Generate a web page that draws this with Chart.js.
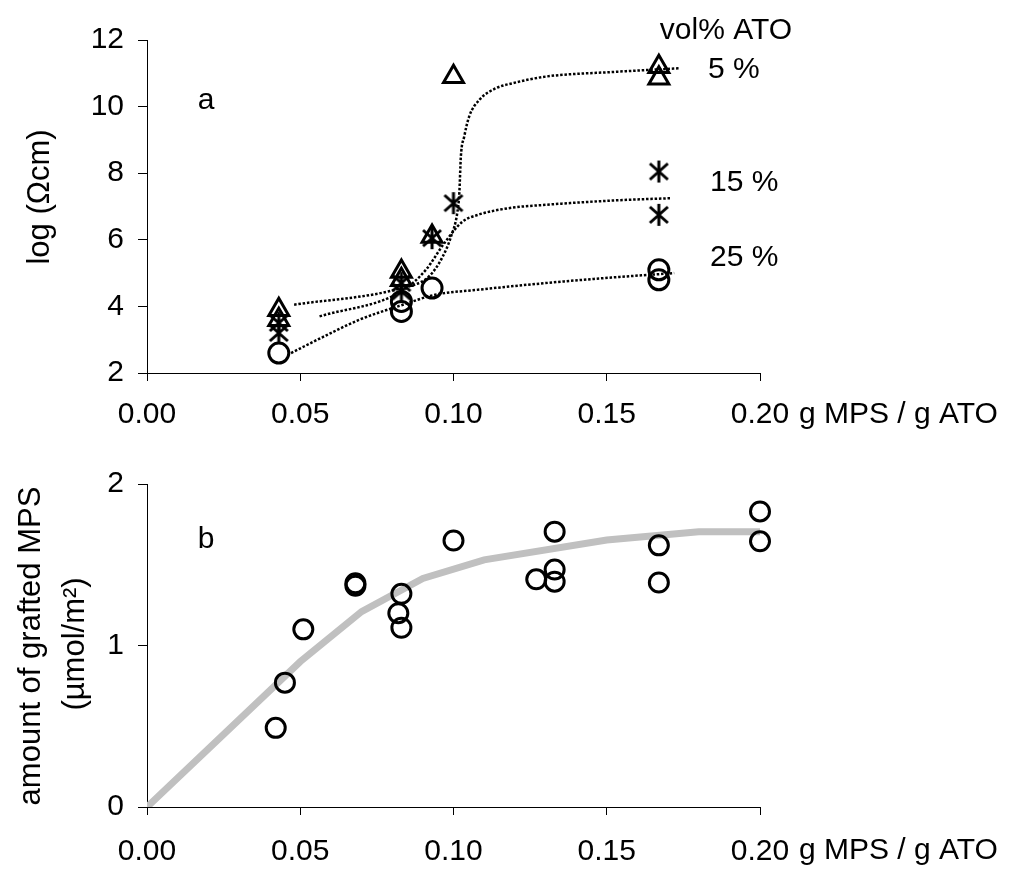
<!DOCTYPE html>
<html>
<head>
<meta charset="utf-8">
<script src="https://cdn.jsdelivr.net/npm/chart.js@4.4.1/dist/chart.umd.min.js"></script>
<style>
  body { margin: 0; background: #fff; }
  #wrap { position: relative; width: 1026px; height: 873px; }
  #chartA { position: absolute; left: 0; top: 0; }
  #chartB { position: absolute; left: 0; top: 440px; }
</style>
</head>
<body>
<div id="wrap">
  <canvas id="chartA" width="1026" height="440"></canvas>
  <canvas id="chartB" width="1026" height="433"></canvas>
</div>
<script>
// axis ticks
const xTicks = [0, 0.05, 0.10, 0.15, 0.20];
const yTicksA = [2, 4, 6, 8, 10, 12];
const yTicksB = [0, 1, 2];
const atoLevels = ['5 %', '15 %', '25 %'];

// panel a: log resistivity, one series per vol% ATO
const tri5X = [0.043, 0.043, 0.083, 0.083, 0.093, 0.100, 0.167, 0.167];
const tri5Y = [3.90, 3.60, 5.05, 4.80, 6.10, 10.90, 11.20, 10.85];
const star15X = [0.043, 0.043, 0.083, 0.083, 0.093, 0.100, 0.167, 0.167];
const star15Y = [3.50, 3.20, 4.70, 4.45, 6.05, 7.10, 8.05, 6.75];
const circ25X = [0.043, 0.083, 0.083, 0.093, 0.167, 0.167];
const circ25Y = [2.60, 4.15, 3.85, 4.55, 5.10, 4.80];

// dotted trend lines
const fit5X = [0.048, 0.083, 0.092, 0.0965, 0.0992, 0.1013, 0.1019, 0.1024, 0.1035, 0.1051, 0.1084, 0.1138, 0.1192, 0.130, 0.152, 0.1735];
const fit5Y = [4.05, 4.55, 4.90, 5.50, 6.10, 6.85, 7.40, 8.50, 9.10, 9.70, 10.20, 10.55, 10.70, 10.90, 11.04, 11.15];
const fit15X = [0.0563, 0.083, 0.091, 0.097, 0.103, 0.108, 0.118, 0.130, 0.152, 0.171];
const fit15Y = [3.70, 4.45, 5.10, 5.90, 6.55, 6.75, 6.95, 7.05, 7.18, 7.25];
const fit25X = [0.047, 0.060, 0.0693, 0.0835, 0.094, 0.108, 0.130, 0.152, 0.172];
const fit25Y = [2.60, 3.20, 3.60, 4.05, 4.35, 4.50, 4.70, 4.87, 5.00];

// panel b: grafted MPS
const graftX = [0.042, 0.045, 0.051, 0.068, 0.068, 0.082, 0.083, 0.083, 0.100, 0.127, 0.133, 0.133, 0.133, 0.167, 0.167, 0.200, 0.200];
const graftY = [0.49, 0.77, 1.10, 1.385, 1.37, 1.20, 1.32, 1.11, 1.65, 1.41, 1.705, 1.47, 1.395, 1.62, 1.39, 1.83, 1.645];
const graftFitX = [0, 0.05, 0.07, 0.09, 0.11, 0.15, 0.18, 0.20];
const graftFitY = [0, 0.90, 1.21, 1.415, 1.53, 1.653, 1.705, 1.705];

const pts = (xs, ys) => xs.map((x, i) => ({ x: x, y: ys[i] }));

const FONT = '"Liberation Sans", Arial, sans-serif';
const FS = 30;
Chart.defaults.font.family = FONT;
Chart.defaults.font.size = FS;
Chart.defaults.color = '#000';

// excel style asterisk marker (X with a vertical bar)
const starImg = document.createElement('canvas');
starImg.width = 24; starImg.height = 24;
(function () {
  const c = starImg.getContext('2d');
  c.strokeStyle = '#000';
  c.lineWidth = 3;
  c.beginPath();
  c.moveTo(12, 1); c.lineTo(12, 23);
  c.moveTo(3, 4); c.lineTo(21, 20);
  c.moveTo(21, 4); c.lineTo(3, 20);
  c.stroke();
})();

// free labels: panel letters, series names, axis titles
const notes = {
  id: 'notes',
  afterDraw(chart, args, opts) {
    const ctx = chart.ctx;
    ctx.save();
    ctx.fillStyle = '#000';
    ctx.textBaseline = 'middle';
    opts.items.forEach(it => {
      ctx.font = (it.size || FS) + 'px ' + FONT;
      ctx.textAlign = it.align || 'left';
      if (it.rotate) {
        ctx.save();
        ctx.translate(it.x, it.y);
        ctx.rotate(-Math.PI / 2);
        ctx.fillText(it.text, 0, 0);
        ctx.restore();
      } else {
        ctx.fillText(it.text, it.x, it.y);
      }
    });
    ctx.restore();
  }
};

function xScale(height, pad) {
  return {
    type: 'linear', min: 0, max: 0.2,
    afterBuildTicks: s => { s.ticks = xTicks.map(v => ({ value: v })); },
    afterFit: s => { s.height = height; },
    border: { color: '#000', width: 1 },
    grid: { drawOnChartArea: false, drawTicks: true, tickLength: 8, color: '#000' },
    ticks: { padding: pad, maxRotation: 0, autoSkip: false, callback: v => v.toFixed(2) }
  };
}

function yScale(min, max, ticks) {
  return {
    type: 'linear', min: min, max: max,
    afterBuildTicks: s => { s.ticks = ticks.map(v => ({ value: v })); },
    afterFit: s => { s.width = 147; },
    border: { color: '#000', width: 1 },
    grid: { drawOnChartArea: false, drawTicks: true, tickLength: 9, color: '#000' },
    ticks: { padding: 14 }
  };
}

const dotted = (xs, ys) => ({
  type: 'line', data: pts(xs, ys), showLine: true, pointRadius: 0,
  borderColor: '#000', borderWidth: 2.5, borderDash: [2.5, 1.8],
  cubicInterpolationMode: 'monotone', fill: false, order: 2
});

const marker = (xs, ys, style, r) => ({
  data: pts(xs, ys), pointStyle: style, pointRadius: r,
  borderColor: '#000', backgroundColor: 'rgba(0,0,0,0)', pointBorderWidth: 3,
  showLine: false, clip: false, order: 1
});

new Chart(document.getElementById('chartA'), {
  type: 'scatter',
  data: {
    datasets: [
      dotted(fit5X, fit5Y),
      dotted(fit15X, fit15Y),
      dotted(fit25X, fit25Y),
      marker(tri5X, tri5Y, 'triangle', 11.5),
      marker(star15X, star15Y, starImg, 10),
      marker(circ25X, circ25Y, 'circle', 10)
    ]
  },
  options: {
    responsive: false,
    animation: false,
    layout: { padding: { left: 0, right: 266, top: 40, bottom: 0 } },
    scales: {
      x: xScale(67, 16),
      y: yScale(2, 12, yTicksA)
    },
    plugins: {
      legend: { display: false },
      tooltip: { enabled: false },
      notes: {
        items: [
          { text: 'log (Ωcm)', x: 40, y: 197, align: 'center', rotate: true, size: 31 },
          { text: 'a', x: 206, y: 101, align: 'center' },
          { text: 'vol% ATO', x: 726, y: 31, align: 'center' },
          { text: atoLevels[0], x: 708, y: 70 },
          { text: atoLevels[1], x: 710, y: 183 },
          { text: atoLevels[2], x: 710, y: 258 },
          { text: 'g MPS / g ATO', x: 799, y: 415 }
        ]
      }
    }
  },
  plugins: [notes]
});

new Chart(document.getElementById('chartB'), {
  type: 'scatter',
  data: {
    datasets: [
      {
        type: 'line', data: pts(graftFitX, graftFitY), showLine: true, pointRadius: 0,
        borderColor: '#c0c0c0', borderWidth: 7, tension: 0, fill: false, order: 2
      },
      marker(graftX, graftY, 'circle', 9.5)
    ]
  },
  options: {
    responsive: false,
    animation: false,
    layout: { padding: { left: 0, right: 266, top: 44, bottom: 0 } },
    scales: {
      x: xScale(66, 19),
      y: yScale(0, 2, yTicksB)
    },
    plugins: {
      legend: { display: false },
      tooltip: { enabled: false },
      notes: {
        items: [
          { text: 'amount of grafted MPS', x: 31, y: 206, align: 'center', rotate: true, size: 31 },
          { text: '(µmol/m²)', x: 75, y: 204, align: 'center', rotate: true, size: 31 },
          { text: 'b', x: 206, y: 100, align: 'center' },
          { text: 'g MPS / g ATO', x: 799, y: 411 }
        ]
      }
    }
  },
  plugins: [notes]
});
</script>
</body>
</html>
